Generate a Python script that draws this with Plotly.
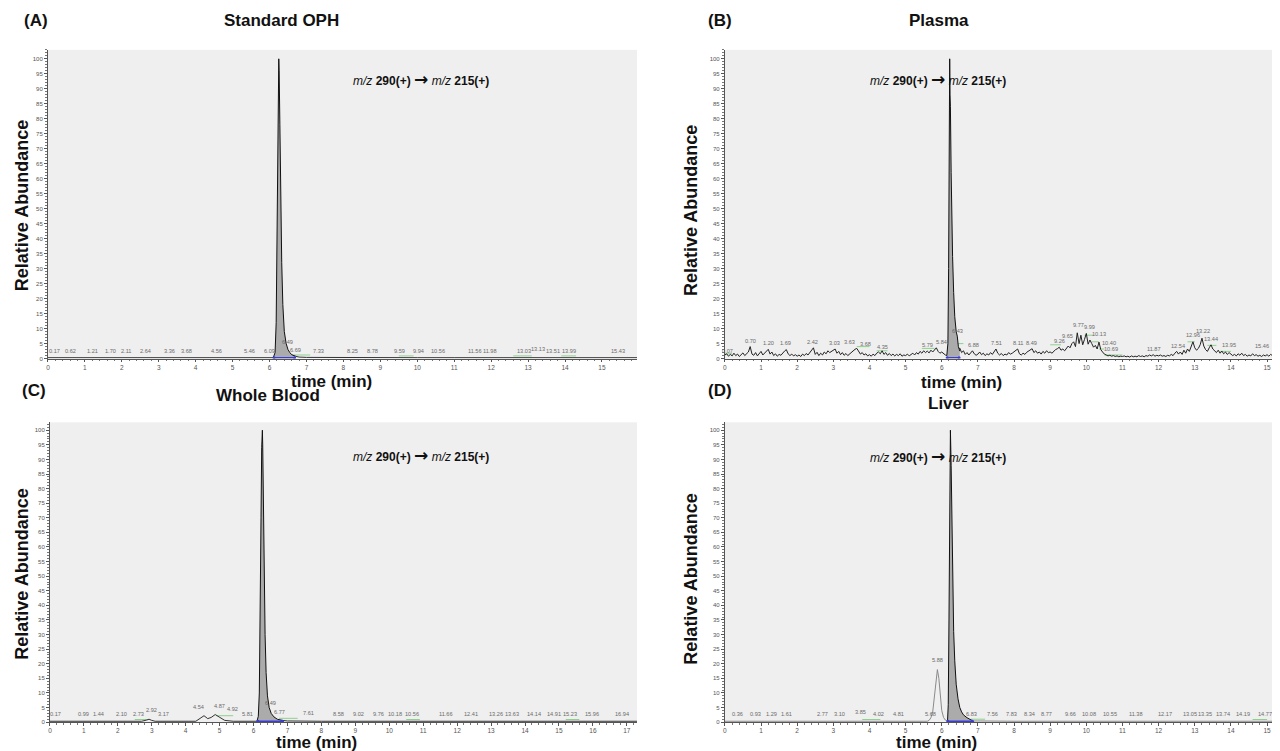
import plotly.graph_objects as go

W, H = 1280, 751
FONT = "Liberation Sans"

# ---------------- data ----------------
# (A) Standard OPH
A_base_t = [0.0, 1.0, 2.0, 3.0, 4.0, 5.0, 6.0, 6.10, 6.70, 6.80, 7.0, 8.0, 9.0, 10.0, 11.0, 12.0, 13.0, 14.0, 15.0, 15.95]
A_base_y = [0.3, 0.3, 0.3, 0.3, 0.3, 0.3, 0.3, 0.3, 0.8, 0.5, 0.4, 0.3, 0.3, 0.3, 0.3, 0.3, 0.3, 0.3, 0.3, 0.3]
A_peak_t = [6.10, 6.15, 6.18, 6.20, 6.22, 6.24, 6.25, 6.26, 6.28, 6.30, 6.33, 6.36, 6.40, 6.45, 6.50, 6.55, 6.60, 6.70]
A_peak_y = [0.3, 2.0, 12.0, 35.0, 70.0, 95.0, 100.0, 96.0, 78.0, 55.0, 32.0, 18.0, 9.0, 5.0, 3.0, 2.0, 1.3, 0.8]
A_lab_t = [0.17, 0.62, 1.21, 1.70, 2.11, 2.64, 3.36, 3.68, 4.56, 5.46, 6.09, 6.49, 6.69, 7.33, 8.25, 8.78,
           9.59, 9.94, 10.56, 11.56, 11.98, 13.03, 13.13, 13.51, 13.99, 15.43]
A_lab_y = [1.0, 1.0, 1.0, 1.0, 1.0, 1.0, 1.0, 1.0, 1.0, 1.0, 1.0, 4.0, 1.2, 1.0, 1.0, 1.0,
           1.0, 1.0, 1.0, 1.0, 1.0, 1.0, 1.4, 1.0, 1.0, 1.0]
A_blue = [6.12, 6.68]
A_green = [(6.6, 7.1, 1.2), (9.5, 9.9, 0.9), (12.6, 13.1, 0.9), (13.9, 14.3, 0.9)]

# (B) Plasma - noisy trace sampled every 0.05 min from 0 to 15.60
B_t0, B_dt = 0.0, 0.05
B_noise = [
    1.2, 1.6, 0.8, 1.4, 0.9, 1.8, 1.0, 1.5, 0.7, 1.3, 1.9, 1.0, 1.6, 2.2, 4.0, 1.5, 1.1, 2.0, 0.9, 1.7,
    2.4, 1.2, 1.8, 2.6, 3.1, 1.5, 2.2, 1.0, 1.6, 0.8, 1.4, 1.1, 2.0, 2.5, 3.0, 1.6, 1.0, 1.5, 0.9, 1.3,
    0.8, 1.2, 0.7, 1.5, 1.0, 1.7, 1.2, 2.0, 2.6, 3.6, 1.4, 2.1, 1.0, 1.8, 1.2, 2.2, 1.6, 2.6, 2.0, 2.4,
    2.8, 3.2, 1.8, 2.4, 1.3, 2.0, 1.1, 1.7, 1.0, 1.6, 2.1, 2.6, 3.1, 3.4, 2.2, 1.5, 2.0, 1.2, 1.6, 0.9,
    1.3, 0.8, 1.5, 1.0, 1.8, 2.2, 1.6, 2.6, 1.4, 2.0, 1.1, 1.7, 1.0, 1.5, 0.9, 1.4, 1.0, 1.6, 0.8, 1.2,
    1.0, 1.5, 0.9, 1.3, 1.8, 1.2, 2.0, 1.5, 2.4, 1.8, 2.6, 2.0, 2.5, 1.9, 2.8, 2.2, 3.0, 3.6, 2.4, 1.8,
    2.2, 1.6, 1.2, 1.0, 1.0, 1.0, 1.0, 1.0, 1.0, 3.0, 3.5, 2.0, 2.6, 1.4, 2.0, 1.2, 1.8, 2.6, 1.6, 1.1,
    1.5, 2.2, 1.3, 1.8, 1.0, 1.6, 1.2, 2.0, 1.4, 2.2, 3.2, 1.8, 1.2, 1.7, 1.0, 1.5, 1.2, 2.0, 1.5, 1.8,
    2.2, 2.8, 3.2, 1.6, 1.2, 1.8, 1.4, 2.1, 2.6, 3.0, 3.3, 2.0, 2.6, 1.8, 2.2, 1.5, 2.4, 1.8, 2.6, 2.0,
    2.2, 1.8, 2.6, 3.0, 3.3, 3.8, 2.8, 3.2, 2.6, 3.4, 4.2, 3.6, 5.0, 5.6, 4.0, 8.6, 5.0, 7.8, 4.6, 6.4,
    8.4, 4.8, 6.2, 5.0, 3.8, 4.4, 3.2, 5.5, 3.0, 2.2, 1.5, 1.2, 0.9, 1.1, 0.8, 1.0, 0.7, 0.9, 0.6, 0.8,
    0.7, 0.9, 0.6, 0.8, 0.5, 0.9, 0.6, 0.8, 0.6, 1.0, 0.7, 0.9, 0.6, 1.0, 0.8, 1.2, 0.9, 1.3, 0.8, 1.1,
    0.9, 1.2, 0.8, 1.0, 0.7, 1.1, 0.9, 1.4, 1.0, 1.8, 2.4, 1.5, 2.2, 1.4, 2.8, 1.8, 3.2, 2.4, 4.0, 5.6,
    3.6, 2.8, 3.4, 4.6, 6.8, 4.2, 3.0, 2.4, 3.6, 4.6, 3.2, 2.6, 2.0, 2.8, 1.8, 2.5, 1.6, 2.2, 1.4, 2.0,
    1.5, 1.0, 1.4, 0.9, 1.6, 1.1, 1.8, 1.0, 1.4, 0.8, 1.2, 0.9, 1.6, 1.0, 1.3, 0.8, 1.1, 0.7, 1.2, 0.9,
    1.3, 0.8, 1.4, 1.0, 1.6, 1.1, 1.5, 1.0, 1.8, 2.4, 1.5, 4.8, 2.0,
]
B_peak_t = [6.14, 6.17, 6.19, 6.20, 6.21, 6.22, 6.23, 6.24, 6.26, 6.28, 6.30, 6.33, 6.36, 6.40, 6.43, 6.46, 6.50]
B_peak_y = [1.0, 5.0, 30.0, 70.0, 92.0, 100.0, 88.0, 84.0, 62.0, 45.0, 34.0, 22.0, 14.0, 9.0, 7.5, 4.0, 2.5]
B_lab_t = [0.07, 0.70, 1.20, 1.69, 2.42, 3.03, 3.63, 3.68, 4.35, 5.79, 5.84, 6.43, 6.88, 7.51, 8.11, 8.49,
           9.26, 9.65, 9.77, 9.99, 10.13, 10.40, 10.69, 11.87, 12.54, 12.96, 13.22, 13.44, 13.95, 15.46]
B_lab_y = [1.0, 4.3, 3.4, 3.4, 3.8, 3.6, 3.8, 3.2, 2.2, 3.0, 3.8, 7.6, 2.8, 3.4, 3.4, 3.6,
           4.2, 5.8, 9.4, 8.8, 6.6, 3.6, 1.4, 1.4, 2.4, 6.2, 7.4, 5.0, 2.8, 2.6]
B_blue = [6.15, 6.48]
# integration marks (start, end, level)
B_green = [(0.0, 0.2, 1.6), (3.65, 4.0, 4.0), (4.2, 4.5, 2.6), (5.45, 5.8, 3.4), (6.43, 6.6, 5.0),
           (9.0, 9.3, 4.6), (9.95, 10.2, 7.8), (10.15, 10.35, 5.6), (10.35, 10.5, 3.2), (10.5, 11.0, 1.2),
           (12.8, 13.0, 5.6), (13.35, 13.6, 4.4), (13.7, 14.0, 2.4)]

# (C) Whole Blood
C_base_t = [0.0, 2.70, 2.85, 2.92, 3.00, 3.10, 4.30, 4.45, 4.54, 4.65, 4.75, 4.87, 5.00, 5.15, 5.40, 6.10,
            6.85, 7.0, 8.0, 9.0, 10.0, 11.0, 12.0, 13.0, 14.0, 15.0, 16.0, 17.3]
C_base_y = [0.3, 0.3, 0.7, 1.0, 0.6, 0.3, 0.3, 1.5, 2.2, 1.2, 1.6, 2.6, 1.6, 0.6, 0.3, 0.3,
            0.6, 0.4, 0.3, 0.3, 0.3, 0.3, 0.3, 0.3, 0.3, 0.3, 0.3, 0.3]
C_peak_t = [6.10, 6.14, 6.17, 6.20, 6.22, 6.24, 6.26, 6.27, 6.29, 6.31, 6.34, 6.37, 6.41, 6.46, 6.52, 6.60, 6.70, 6.85]
C_peak_y = [0.3, 2.0, 10.0, 35.0, 70.0, 94.0, 100.0, 95.0, 75.0, 52.0, 30.0, 17.0, 9.0, 5.0, 3.0, 1.8, 1.0, 0.6]
C_lab_t = [0.17, 0.99, 1.44, 2.10, 2.73, 2.92, 3.17, 4.54, 4.87, 4.92, 5.81, 6.49, 6.77, 7.61, 8.58, 9.02,
           9.76, 10.18, 10.56, 11.66, 12.41, 13.26, 13.63, 14.14, 14.91, 15.23, 15.96, 16.94]
C_lab_y = [1.0, 1.0, 1.0, 1.0, 1.0, 2.6, 1.0, 3.4, 3.8, 2.8, 1.0, 5.0, 1.8, 1.4, 1.0, 1.0,
           1.0, 1.0, 1.0, 1.0, 1.0, 1.0, 1.0, 1.0, 1.0, 1.0, 1.0, 1.0]
C_blue = [6.13, 6.85]
C_green = [(2.5, 2.9, 0.9), (4.9, 5.4, 2.2), (6.75, 7.3, 1.3), (10.5, 10.9, 0.9), (15.2, 15.6, 0.9)]

# (D) Liver
D_base_t = [0.0, 1.0, 2.0, 3.0, 4.0, 5.0, 5.60, 5.65, 5.70, 5.75, 5.80, 5.85, 5.88, 5.92, 5.96, 6.00, 6.05,
            6.10, 6.16, 6.85, 7.0, 8.0, 9.0, 10.0, 11.0, 12.0, 13.0, 14.0, 15.0, 15.6]
D_base_y = [0.3, 0.3, 0.3, 0.3, 0.3, 0.3, 0.3, 0.6, 1.5, 3.5, 9.0, 15.5, 18.0, 15.0, 9.0, 4.0, 1.6,
            0.7, 0.4, 0.5, 0.4, 0.3, 0.3, 0.3, 0.3, 0.3, 0.3, 0.3, 0.3, 0.3]
D_peak_t = [6.16, 6.18, 6.20, 6.22, 6.24, 6.26, 6.28, 6.30, 6.33, 6.36, 6.40, 6.45, 6.50, 6.55, 6.60, 6.70, 6.80, 6.85]
D_peak_y = [0.4, 6.0, 35.0, 80.0, 100.0, 88.0, 66.0, 46.0, 31.0, 21.0, 13.0, 8.0, 5.0, 3.5, 2.5, 1.5, 0.8, 0.5]
D_lab_t = [0.36, 0.93, 1.29, 1.61, 2.77, 3.10, 3.85, 4.02, 4.81, 5.68, 5.88, 6.83, 7.56, 7.83, 8.34, 8.77,
           9.66, 10.08, 10.55, 11.38, 12.17, 13.05, 13.35, 13.74, 14.19, 14.77]
D_lab_y = [1.0, 1.0, 1.0, 1.0, 1.0, 1.0, 1.8, 1.0, 1.0, 1.0, 19.5, 1.0, 1.0, 1.0, 1.0, 1.0,
           1.0, 1.0, 1.0, 1.0, 1.0, 1.0, 1.0, 1.0, 1.0, 1.0]
D_blue = [6.17, 6.85]
D_green = [(3.8, 4.3, 0.9), (6.8, 7.2, 1.0), (14.6, 15.0, 0.9)]

panel_letters = ["(A)", "(B)", "(C)", "(D)"]
panel_titles = ["Standard OPH", "Plasma", "Whole Blood", "Liver"]
x_ranges = [[0, 15.95], [0, 15.58], [0, 17.3], [0, 15.58]]
y_ranges = [[0, 103], [0, 103], [0, 102.7], [0, 102.7]]

# label horizontal nudges in pixels (layout only), keyed by label value
A_nudge = {3.36: -3, 3.68: 3, 13.03: -5, 13.13: 5, 13.51: 6, 13.99: 4, 9.59: -3, 9.94: 3, 6.09: -3}
B_nudge = {3.63: -7, 3.68: 8, 5.79: -7, 5.84: 6, 9.65: -6, 9.77: 0, 9.99: 4, 10.13: 8, 10.40: 8,
           15.46: -22}
C_nudge = {2.73: -4, 2.92: 2, 3.17: 6, 4.54: -6, 4.87: 4, 4.92: 16, 8.58: -3, 9.02: 2, 9.76: -3, 10.18: 0,
           10.56: 4, 13.26: -4, 13.63: 0, 14.14: 4, 14.91: -2, 15.23: 3, 16.94: -3}
D_nudge = {0.93: -3, 1.29: 0, 1.61: 3, 2.77: -3, 3.10: 3, 3.85: -4, 4.02: 8, 7.56: -6, 7.83: 4, 8.34: 3,
           8.77: 5, 9.66: -4, 10.08: 0, 10.55: 4, 13.05: -7, 13.35: -2, 13.74: 2, 14.19: 5, 14.77: 6}

# ---------------- layout helpers (pixels -> paper) ----------------
def px(x):
    return x / W

def py(y):
    return 1 - y / H

# plot boxes: left, right, top, bottom in pixels
boxes = [(38, 628, 42, 352), (716, 1280, 42, 352), (40, 628, 416, 717), (716, 1280, 416, 717)]

fig = go.Figure()

def add_panel(i, base_t, base_y, peak_t, peak_y, lab_t, lab_y, blue, nudge, base_color="#333333", green=()):
    xa = "x" if i == 0 else f"x{i+1}"
    ya = "y" if i == 0 else f"y{i+1}"
    for (s, e, lv) in green:
        fig.add_trace(go.Scatter(x=[s, e], y=[lv, lv], mode="lines", xaxis=xa, yaxis=ya,
                                 line=dict(color="#8fd08f", width=1), showlegend=False, hoverinfo="skip"))
    fig.add_trace(go.Scatter(x=base_t, y=base_y, mode="lines", xaxis=xa, yaxis=ya,
                             line=dict(color=base_color, width=1), showlegend=False, hoverinfo="skip"))
    fig.add_trace(go.Scatter(x=peak_t, y=peak_y, mode="lines", xaxis=xa, yaxis=ya, fill="tozeroy",
                             fillcolor="#ababab", line=dict(color="#111111", width=1),
                             showlegend=False, hoverinfo="skip"))
    fig.add_trace(go.Scatter(x=blue, y=[0.3, 0.3], mode="lines+markers", xaxis=xa, yaxis=ya,
                             line=dict(color="#3b3bd6", width=1.5), marker=dict(size=3, color="#3b3bd6"),
                             showlegend=False, hoverinfo="skip"))
    for t, h in zip(lab_t, lab_y):
        fig.add_annotation(x=t, y=h, xref=xa, yref=ya, text=f"{t:.2f}", showarrow=False,
                           yanchor="bottom", xshift=nudge.get(t, 0),
                           font=dict(size=5.6, color="#6a6a6a", family=FONT))

add_panel(0, A_base_t, A_base_y, A_peak_t, A_peak_y, A_lab_t, A_lab_y, A_blue, A_nudge, green=A_green)

B_t = [round(B_t0 + k * B_dt, 2) for k in range(len(B_noise))]
add_panel(1, B_t, B_noise, B_peak_t, B_peak_y, B_lab_t, B_lab_y, B_blue, B_nudge,
          base_color="#222222", green=B_green)
add_panel(2, C_base_t, C_base_y, C_peak_t, C_peak_y, C_lab_t, C_lab_y, C_blue, C_nudge, green=C_green)

# Liver pre-peak drawn as light outline, main peak filled
add_panel(3, D_base_t, D_base_y, D_peak_t, D_peak_y, D_lab_t, D_lab_y, D_blue, D_nudge,
          base_color="#8a8a8a", green=D_green)

layout = dict(width=W, height=H, margin=dict(l=0, r=0, t=0, b=0),
              paper_bgcolor="white", plot_bgcolor="#efefef",
              font=dict(family=FONT, color="#222"))

for i, (l, r, t, b) in enumerate(boxes):
    sfx = "" if i == 0 else str(i + 1)
    layout["xaxis" + sfx] = dict(domain=[px(l), px(r)], range=x_ranges[i], anchor="y" + sfx,
                                 showline=True, linecolor="#555", linewidth=1, ticks="outside",
                                 ticklen=2.5, tickcolor="#555", dtick=1, tick0=0,
                                 tickfont=dict(size=6.5, color="#555"), showgrid=False, zeroline=False,
                                 minor=dict(dtick=0.2, ticklen=1.5, ticks="outside", tickcolor="#777"))
    layout["yaxis" + sfx] = dict(domain=[py(b), py(t)], range=y_ranges[i], anchor="x" + sfx,
                                 showline=True, linecolor="#555", linewidth=1, ticks="outside",
                                 ticklen=3, tickcolor="#555", dtick=5, tick0=0,
                                 tickfont=dict(size=6, color="#555"), showgrid=False, zeroline=False,
                                 minor=dict(dtick=1, ticklen=1.5, ticks="outside", tickcolor="#777"))
fig.update_layout(**layout)

def ann(x, y, text, size, angle=0):
    fig.add_annotation(x=px(x), y=py(y), xref="paper", yref="paper", text=text, showarrow=False,
                       textangle=angle, xanchor="center", yanchor="middle",
                       font=dict(size=size, color="#111", family=FONT))

letter_pos = [(26, 13), (711, 13), (24, 384), (711, 384)]
title_pos = [(272, 13), (930, 13), (258, 389), (940, 397)]
time_pos = [(322, 375), (953, 376), (307, 737), (928, 737)]
ylab_pos = [(12, 198), (682, 203), (12, 568), (682, 573)]
mz_pos = [(412, 71), (929, 71), (412, 449), (929, 450)]
mz_text = ("<i>m/z</i> <b>290(+)</b> "
           "<span style='font-family:DejaVu Sans;font-size:17px'><b>\u2192</b></span>"
           " <i>m/z</i> <b>215(+)</b>")

for i in range(4):
    ann(*letter_pos[i], f"<b>{panel_letters[i]}</b>", 17)
    ann(*title_pos[i], f"<b>{panel_titles[i]}</b>", 17)
    ann(*time_pos[i], "<b>time (min)</b>", 17)
    ann(*ylab_pos[i], "<b>Relative Abundance</b>", 18, angle=-90)
    ann(*mz_pos[i], mz_text, 12)

fig.write_html("out.html")
